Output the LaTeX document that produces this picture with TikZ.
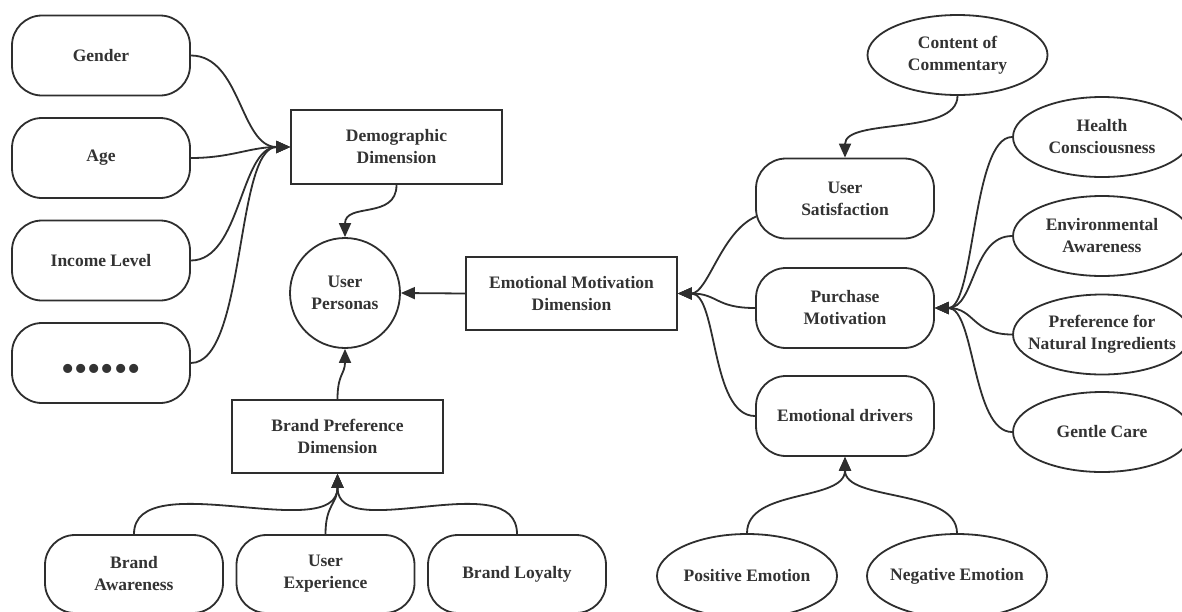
\documentclass[tikz,border=0pt]{standalone}
\usepackage{fontspec}
\setmainfont{Liberation Serif}
\usetikzlibrary{arrows.meta,shapes.geometric,calc}
\definecolor{linec}{HTML}{2E2E2E}
\definecolor{txtc}{HTML}{333333}
\tikzset{
  lbl/.style={font=\fontsize{17.5}{22}\selectfont\bfseries, text=txtc, align=center, inner sep=0pt},
  pill/.style={lbl, draw=linec, line width=1.8pt, rounded corners=30pt, minimum width=178pt, minimum height=80pt},
  sqbox/.style={lbl, draw=linec, line width=1.8pt, minimum width=211pt, minimum height=74pt},
  ell/.style={ellipse, draw=linec, line width=1.8pt, minimum width=180pt, minimum height=80pt, inner sep=0pt},
  circ/.style={lbl, circle, draw=linec, line width=1.8pt, minimum size=110pt},
  conn/.style={draw=linec, line width=1.8pt, -{Triangle[length=14pt,width=12pt]}}
}
\begin{document}
\begin{tikzpicture}[x=1pt,y=-1pt]
\useasboundingbox[fill=white] (0,0) rectangle (1182,611);
% left column
\node[pill] (gender) at (101,55.5) {Gender};
\node[pill] (age) at (101,158) {Age};
\node[pill] (income) at (101,260.5) {Income Level};
\node[pill] (dots) at (101,363) {};
\node[lbl, font=\fontsize{38}{38}\selectfont] (dotstxt) at (101,373) {••••••};
% central
\node[sqbox] (dem) at (396.5,147) {Demographic\\Dimension};
\node[circ] (up) at (345,293) {User\\Personas};
\node[sqbox, minimum height=73pt] (em) at (571.5,293.5) {Emotional Motivation\\Dimension};
\node[sqbox, minimum height=73pt] (bp) at (337.5,436.5) {Brand Preference\\Dimension};
% bottom pills
\node[pill, minimum height=78pt] (ba) at (134,574) {Brand\\Awareness};
\node[pill, minimum height=78pt] (ue) at (325.5,574) {User\\Experience};
\node[pill, minimum height=78pt] (bl) at (517,574) {Brand Loyalty};
% right middle pills
\node[pill] (us) at (845,198.5) {User\\Satisfaction};
\node[pill] (pm) at (845,308) {Purchase\\Motivation};
\node[pill] (ed) at (845,416) {Emotional drivers};
% ellipses
\node[ell] (coc) at (957.5,55) {};
\node[lbl] at (coc) {Content of\\Commentary};
\node[ell, minimum width=178pt] (hc) at (1102,137) {};
\node[lbl] at (hc) {Health\\Consciousness};
\node[ell, minimum width=178pt] (ea) at (1102,236) {};
\node[lbl] at (ea) {Environmental\\Awareness};
\node[ell, minimum width=178pt] (pn) at (1102,334.5) {};
\node[lbl] at (pn) {Preference for\\Natural Ingredients};
\node[ell, minimum width=178pt] (gc) at (1102,432) {};
\node[lbl] at (gc) {Gentle Care};
\node[ell, minimum height=84pt] (pe) at (747,576) {};
\node[lbl] at (pe) {Positive Emotion};
\node[ell, minimum height=84pt] (ne) at (957,576) {};
\node[lbl] at (ne) {Negative Emotion};
% connectors left
\draw[conn] (gender.east) .. controls +(50,0) and +(-50,0) .. (dem.west);
\draw[conn] (age.east) .. controls +(40,0) and +(-40,0) .. (dem.west);
\draw[conn] (income.east) .. controls +(50,0) and +(-50,0) .. (dem.west);
\draw[conn] (dots.east) .. controls +(55,0) and +(-55,0) .. (dem.west);
\draw[conn] (dem.south) .. controls +(0,35) and +(0,-35) .. (up.north);
\draw[conn] (bp.north) .. controls +(0,-25) and +(0,25) .. (up.south);
\draw[conn] (em.west) -- (up.east);
\draw[conn] (ba.north) .. controls +(0,-70) and +(0,72) .. (bp.south);
\draw[conn] (ue.north) .. controls +(0,-30) and +(0,30) .. (bp.south);
\draw[conn] (bl.north) .. controls +(0,-70) and +(0,72) .. (bp.south);
% connectors right
\draw[conn] ($(us.west)+(1,18)$) .. controls +(-35,15) and +(30,0) .. (em.east);
\draw[conn] (pm.west) .. controls +(-40,0) and +(40,0) .. (em.east);
\draw[conn] (ed.west) .. controls +(-45,0) and +(40,0) .. (em.east);
\draw[conn] (coc.south) .. controls +(0,40) and +(0,-40) .. (us.north);
\draw[conn] (hc.west) .. controls +(-40,0) and +(40,0) .. (pm.east);
\draw[conn] (ea.west) .. controls +(-40,0) and +(40,0) .. (pm.east);
\draw[conn] (pn.west) .. controls +(-40,0) and +(40,0) .. (pm.east);
\draw[conn] (gc.west) .. controls +(-40,0) and +(40,0) .. (pm.east);
\draw[conn] (pe.north) .. controls +(0,-45) and +(0,45) .. (ed.south);
\draw[conn] (ne.north) .. controls +(0,-45) and +(0,45) .. (ed.south);
\end{tikzpicture}
\end{document}
